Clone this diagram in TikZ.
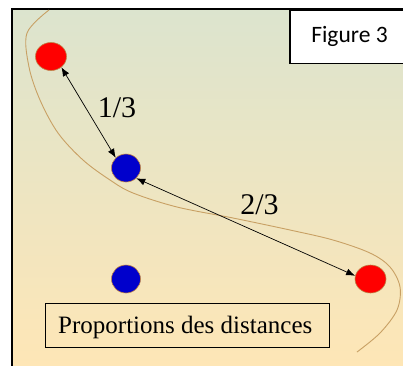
\documentclass[tikz,border=0pt]{standalone}
\usepackage{fontspec}
\setmainfont{Liberation Serif}
\newfontfamily\carl{Carlito}
\usetikzlibrary{arrows.meta,shapes.geometric}
\definecolor{bgtop}{RGB}{220,228,206}
\definecolor{bgbot}{RGB}{254,230,182}
\definecolor{tan}{RGB}{200,160,100}
\definecolor{rim}{RGB}{190,130,70}
\definecolor{dotblue}{RGB}{0,0,204}
\begin{document}
\begin{tikzpicture}[x=1pt,y=-1pt,
  reddot/.style={ellipse,fill=red,draw=rim,line width=0.6pt,minimum width=31pt,minimum height=28pt,inner sep=0pt},
  bluedot/.style={ellipse,fill=dotblue,draw=rim,line width=0.6pt,minimum width=29pt,minimum height=28pt,inner sep=0pt},
  dist/.style={{Latex[length=9pt,width=7pt]}-{Latex[length=9pt,width=7pt]},line width=0.7pt,black},
  frac/.style={font=\fontsize{30}{30}\selectfont,anchor=base,inner sep=0pt},
  curve/.style={draw=tan,line width=0.9pt}]
\useasboundingbox (0,0) rectangle (403,365);
\fill[white] (0,0) rectangle (403,365);
\shade[top color=bgtop,bottom color=bgbot] (12,9) rectangle (404,366);
\draw[line width=1.6pt] (12,366) -- (12,9) -- (404,9);
% curve
\draw[curve] plot[smooth,tension=0.55] coordinates {(49,10) (27,33) (29,67) (40,100) (58,133) (83,160) (110,180) (133,193) (177,207) (233,218) (290,230) (333,240) (370,253) (390,267) (400,287) (397,310) (380,333) (357,352)};
% figure label
\node[draw=black,line width=1.6pt,fill=white,minimum width=116pt,minimum height=53pt,inner sep=0pt,anchor=north west] (fig) at (289,9.5) {};
\node[font=\carl\fontsize{23.5}{23.5}\selectfont,anchor=base,inner sep=0pt] (figtxt) at (349.5,42) {Figure 3};
% dots
\node[reddot] (r1) at (51,56.5) {};
\node[bluedot] (b1) at (126,168) {};
\node[bluedot] (b2) at (126,279) {};
\node[reddot] (r2) at (370.5,279) {};
% arrows
\draw[dist] (r1.-46) -- (b1.135);
\draw[dist] (b1.-45) -- (r2.168);
\node[frac] (l1) at (117,117) {1/3};
\node[frac] (l2) at (259.5,214) {2/3};
% caption
\node[draw=black,line width=0.8pt,minimum width=284pt,minimum height=44pt,inner sep=0pt,anchor=north west] (capbox) at (45,303) {};
\node[font=\fontsize{25}{25}\selectfont,anchor=base west,inner sep=0pt] (cap) at (58,333) {Proportions des distances};
\end{tikzpicture}
\end{document}
